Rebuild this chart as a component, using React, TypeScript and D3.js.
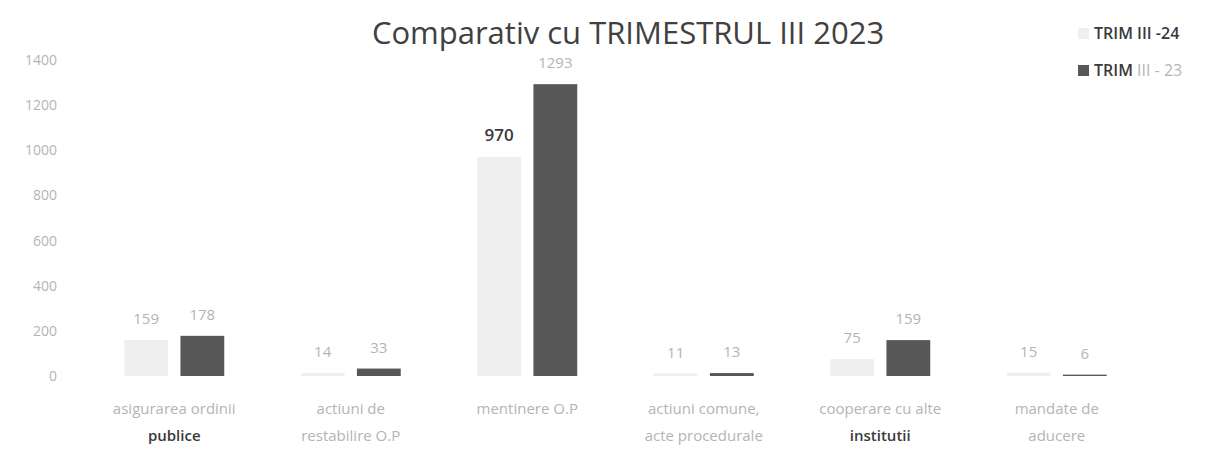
import React from "react";
import * as d3 from "d3";

const categories = ["asigurarea ordinii|publice", "actiuni de|restabilire O.P", "mentinere O.P", "actiuni comune,|acte procedurale", "cooperare cu alte|institutii", "mandate de|aducere"];
const darkSecondLine = [true, false, false, false, true, false];
const seriesNames = ["TRIM III -24", "TRIM III - 23"];
const values24 = [159, 14, 970, 11, 75, 15];
const values23 = [178, 33, 1293, 13, 159, 6];
const yTicks = [0, 200, 400, 600, 800, 1000, 1200, 1400];

const W = 1210, H = 450;
const FONT = "'Open Sans', 'Noto Sans', sans-serif";
const LIGHT = "#efefef";
const DARK = "#585858";
const FAINT = "#b4b4b4";
const TEXT = "#3a3a3a";

export default function App() {
  const x = d3.scaleBand<number>().domain(d3.range(categories.length)).range([86, 1145]).paddingInner(0).paddingOuter(0);
  const inner = d3.scaleBand<number>().domain([0, 1]).range([x.bandwidth() / 2 - 50, x.bandwidth() / 2 + 50]).paddingInner(0.22);
  const y = d3.scaleLinear().domain([0, 1400]).range([376, 60]);
  const series = [values24, values23];
  const colors = [LIGHT, DARK];

  return (
    <svg width={W} height={H} style={{ position: "absolute", left: 0, top: 0, background: "#fff" }}>
      <rect width={W} height={H} fill="#fff" />
      <text x={628} y={44} textAnchor="middle" fontFamily={FONT} fontSize={31} fill="#404040">
        Comparativ cu TRIMESTRUL III 2023
      </text>
      {yTicks.map((t) => (
        <text key={t} x={57} y={y(t) + 5} textAnchor="end" fontFamily={FONT} fontSize={14} fill={FAINT}>
          {t}
        </text>
      ))}
      {categories.map((c, i) => (
        <g key={i} transform={`translate(${x(i)},0)`}>
          {series.map((vals, s) => (
            <g key={s}>
              <rect x={inner(s)} y={y(vals[i])} width={inner.bandwidth()} height={y(0) - y(vals[i])} fill={colors[s]} />
              <text
                x={inner(s)! + inner.bandwidth() / 2}
                y={y(vals[i]) - 16}
                textAnchor="middle"
                fontFamily={FONT}
                fontSize={vals[i] === 970 ? 17 : 15}
                fontWeight={vals[i] === 970 ? 600 : 400}
                fill={vals[i] === 970 ? TEXT : FAINT}
              >
                {vals[i]}
              </text>
            </g>
          ))}
          {c.split("|").map((line, k) => (
            <text
              key={k}
              x={x.bandwidth() / 2}
              y={414 + k * 27}
              textAnchor="middle"
              fontFamily={FONT}
              fontSize={15}
              fontWeight={k === 1 && darkSecondLine[i] ? 600 : 400}
              fill={k === 1 && darkSecondLine[i] ? TEXT : FAINT}
            >
              {line}
            </text>
          ))}
        </g>
      ))}
      {seriesNames.map((n, s) => {
        const ly = 39 + s * 37;
        const parts = n.split(" ");
        return (
          <g key={n}>
            <rect x={1078} y={ly - 11} width={11} height={11} fill={colors[s]} />
            <text x={1094} y={ly} fontFamily={FONT} fontSize={16} fontWeight={600} fill={TEXT}>
              <tspan>{parts[0]}</tspan>
              <tspan fill={s === 0 ? TEXT : FAINT} fontWeight={s === 0 ? 600 : 400}>{" " + parts.slice(1).join(" ")}</tspan>
            </text>
          </g>
        );
      })}
    </svg>
  );
}
